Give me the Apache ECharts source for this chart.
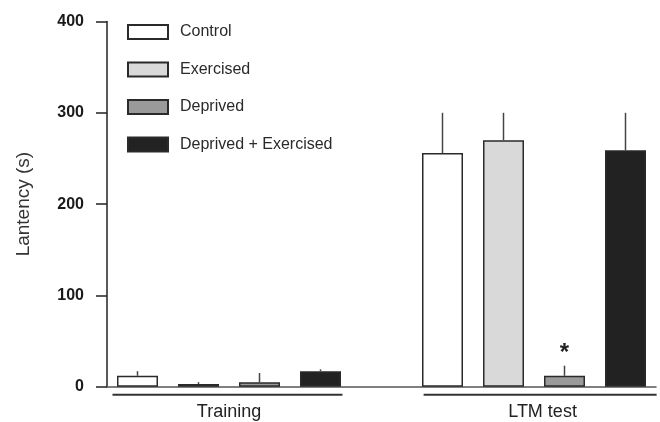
<!DOCTYPE html>
<html>
<head>
<meta charset="utf-8">
<script src="https://cdn.jsdelivr.net/npm/echarts@6/dist/echarts.min.js"></script>
<style>
  html, body { margin: 0; padding: 0; background: #fff; }
  #chart { width: 660px; height: 422px; }
</style>
</head>
<body>
<div id="chart"></div>
<script>
// ---- data ----
const groups = ['Training', 'LTM test'];
const seriesNames = ['Control', 'Exercised', 'Deprived', 'Deprived + Exercised'];
const controlMean = [12, 256];
const controlSem = [5, 44];
const exercisedMean = [3, 270];
const exercisedSem = [2, 30];
const deprivedMean = [5, 12];
const deprivedSem = [10, 11];
const deprExMean = [17, 259];
const deprExSem = [2, 41];
const deprivedSig = ['', '*'];
const yTicks = { min: 0, max: 400, interval: 100 };

// ---- styling ----
const fills = ['#ffffff', '#d9d9d9', '#9a9a9a', '#222222'];
const means = [controlMean, exercisedMean, deprivedMean, deprExMean];
const sems = [controlSem, exercisedSem, deprivedSem, deprExSem];
const sigs = [['', ''], ['', ''], deprivedSig, ['', '']];
const slotsPerGroup = seriesNames.length + 1; // one empty slot between groups
const nSlots = groups.length * slotsPerGroup - 1;

const slotLabels = [];
for (let i = 0; i < nSlots; i++) {
  const g = Math.floor(i / slotsPerGroup), k = i % slotsPerGroup;
  slotLabels.push(k < seriesNames.length ? groups[g] + ' / ' + seriesNames[k] : '');
}

const barSeries = seriesNames.map((name, k) => {
  const data = new Array(nSlots).fill('-');
  groups.forEach((g, gi) => { data[gi * slotsPerGroup + k] = means[k][gi]; });
  return {
    name, type: 'bar', data, barWidth: 41, barGap: '-100%',
    itemStyle: { color: fills[k], borderColor: '#2a2a2a', borderWidth: 1.5 },
    emphasis: { disabled: true }, z: 2
  };
});

const errData = [];
seriesNames.forEach((name, k) => {
  groups.forEach((g, gi) => {
    errData.push([gi * slotsPerGroup + k, means[k][gi], means[k][gi] + sems[k][gi], sigs[k][gi]]);
  });
});

const errSeries = {
  type: 'custom', name: 'err', data: errData, z: 1,
  renderItem: function (params, api) {
    const p0 = api.coord([api.value(0), api.value(1)]);
    const p1 = api.coord([api.value(0), api.value(2)]);
    const children = [{
      type: 'line',
      shape: { x1: p0[0], y1: p0[1], x2: p1[0], y2: p1[1] },
      style: { stroke: '#444', lineWidth: 1.5 }
    }];
    const s = errData[params.dataIndex][3];
    if (s) {
      children.push({
        type: 'text',
        style: { text: s, x: p1[0], y: p1[1] - 12, align: 'center', verticalAlign: 'middle',
                 font: 'bold 24px "Liberation Sans", Arial, sans-serif', fill: '#222' }
      });
    }
    return { type: 'group', children };
  }
};

const chart = echarts.init(document.getElementById('chart'), null, { renderer: 'canvas' });
chart.setOption({
  animation: false,
  backgroundColor: '#fff',
  textStyle: { fontFamily: '"Liberation Sans", Arial, sans-serif' },
  grid: { left: 107, right: 4, top: 21.5, bottom: 35.3, containLabel: false, outerBoundsMode: 'none' },
  legend: {
    data: seriesNames, orient: 'vertical', left: 122, top: 19, icon: 'rect',
    itemWidth: 40, itemHeight: 14, itemGap: 21.5,
    selectedMode: false,
    textStyle: { fontSize: 16, color: '#2a2a2a', padding: [0, 0, 0, 7],
                 fontFamily: '"Liberation Sans", Arial, sans-serif' }
  },
  xAxis: {
    type: 'category', data: slotLabels,
    axisLine: { show: true, lineStyle: { color: '#555', width: 1.5 } },
    axisTick: { show: false }, axisLabel: { show: false }, splitLine: { show: false }
  },
  yAxis: {
    type: 'value', min: yTicks.min, max: yTicks.max, interval: yTicks.interval,
    name: 'Lantency (s)', nameLocation: 'middle', nameGap: 74, nameRotate: 90,
    nameTextStyle: { fontSize: 19, color: '#333', fontFamily: '"Liberation Sans", Arial, sans-serif' },
    axisLine: { show: true, lineStyle: { color: '#222', width: 1.5 } },
    axisTick: { show: true, length: 11, lineStyle: { color: '#222', width: 1.5 } },
    axisLabel: { margin: 23, fontSize: 16, fontWeight: 'bold', color: '#1a1a1a' },
    splitLine: { show: false }
  },
  series: barSeries.concat([errSeries])
});

// group underlines and labels positioned through the axis scales
const c0 = chart.convertToPixel({ xAxisIndex: 0 }, 0);
const c1 = chart.convertToPixel({ xAxisIndex: 0 }, 1);
const slotW = c1 - c0;
const px = f => c0 + f * slotW;
const y0 = chart.convertToPixel({ yAxisIndex: 0 }, 0);
const groupExtents = [[-0.41, 3.36, 1.5], [4.69, 8.51, 6.64]];
const graphics = [];
groups.forEach((g, gi) => {
  const [a, b, c] = groupExtents[gi];
  graphics.push({
    type: 'line', silent: true,
    shape: { x1: px(a), y1: y0 + 8, x2: px(b), y2: y0 + 8 },
    style: { stroke: '#333', lineWidth: 2 }
  });
  graphics.push({
    type: 'text', silent: true,
    style: { text: g, x: px(c), y: y0 + 25, align: 'center', verticalAlign: 'middle',
             font: 'normal 18px "Liberation Sans", Arial, sans-serif', fill: '#222' }
  });
});
chart.setOption({ graphic: graphics });
</script>
</body>
</html>
